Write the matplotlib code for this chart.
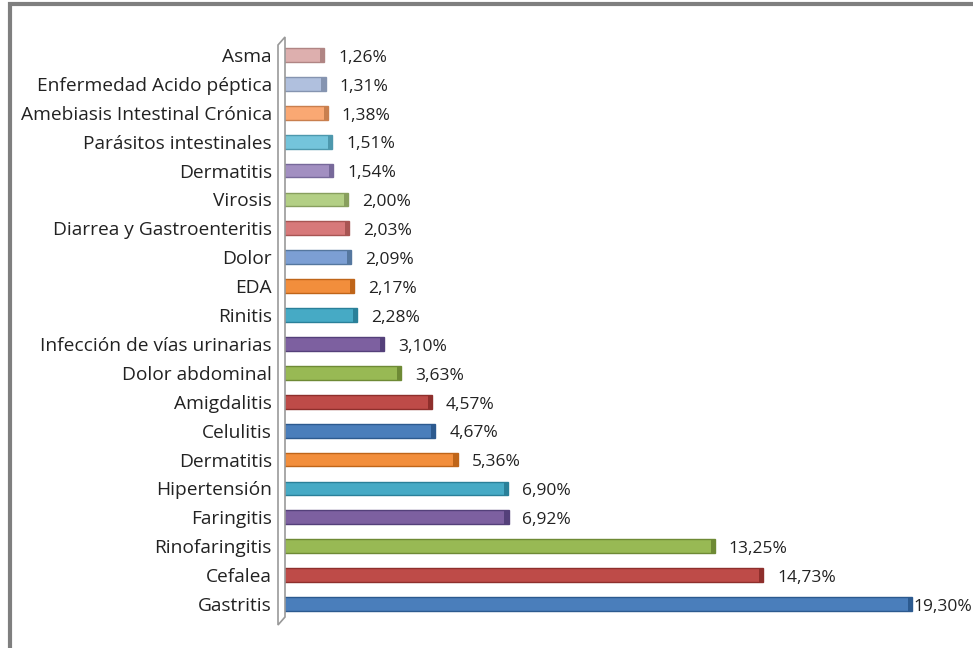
import matplotlib
matplotlib.use("Agg")
import matplotlib.pyplot as plt
from matplotlib.patches import Rectangle, Polygon

plt.rcParams['font.family'] = ['Open Sans', 'DejaVu Sans']

# datos (de abajo hacia arriba)
causas = ['Gastritis', 'Cefalea', 'Rinofaringitis', 'Faringitis', 'Hipertensión',
          'Dermatitis', 'Celulitis', 'Amigdalitis', 'Dolor abdominal',
          'Infección de vías urinarias', 'Rinitis', 'EDA', 'Dolor',
          'Diarrea y Gastroenteritis', 'Virosis', 'Dermatitis',
          'Parásitos intestinales', 'Amebiasis Intestinal Crónica',
          'Enfermedad Acido péptica', 'Asma']
porcentajes = [19.30, 14.73, 13.25, 6.92, 6.90, 5.36, 4.67, 4.57, 3.63, 3.10,
               2.28, 2.17, 2.09, 2.03, 2.00, 1.54, 1.51, 1.38, 1.31, 1.26]

# colores cara / extremo (estilo excel 3D)
caras = ['#4A7EBB', '#BE4B48', '#98B954', '#7D60A0', '#46AAC5', '#F28E3C',
         '#4A7EBB', '#BE4B48', '#98B954', '#7D60A0', '#46AAC5', '#F28E3C',
         '#7C9FD4', '#D7797A', '#B3CF85', '#A28FC1', '#74C4DB', '#FAA873',
         '#B0C0DE', '#DDAFAE']
extremos = ['#2C5A8F', '#8E2F2C', '#6E8A35', '#54407A', '#2A8099', '#BF6519',
            '#2C5A8F', '#8E2F2C', '#6E8A35', '#54407A', '#2A8099', '#BF6519',
            '#55779F', '#A85553', '#889F5E', '#77699A', '#4D98AD', '#C97F4E',
            '#8594B0', '#B08584']

W, H = 973, 648
fig = plt.figure(figsize=(W / 100, H / 100), dpi=100)

x0, y_top, y_bot = 283, 40.5, 618.5
px_por_pct = 32.6
ax = fig.add_axes([x0 / W, 1 - y_bot / H, 20 * px_por_pct / W, (y_bot - y_top) / H])
ax.set_xlim(0, 20)
ax.set_ylim(-0.5, len(causas) - 0.5)

pos = range(len(causas))
ax.barh(pos, porcentajes, height=0.48, color=caras, edgecolor=extremos, linewidth=1.0)
# extremo oscuro de cada barra
ax.barh(pos, [0.13] * len(causas), left=[p - 0.13 for p in porcentajes], height=0.48,
        color=extremos, linewidth=0)

for i, p in enumerate(porcentajes):
    off = 1 if p == max(porcentajes) else 10
    ax.annotate(f'{p:.2f}%'.replace('.', ','), (p, i), xytext=(off, -2),
                textcoords='offset points', va='center', ha='left', fontsize=12.5,
                color='#222222', annotation_clip=False)

ax.set_yticks(list(pos))
ax.set_yticklabels(causas, fontsize=13.8, color='#222222')
ax.tick_params(axis='y', length=0, pad=8)
ax.set_xticks([])
for s in ax.spines.values():
    s.set_visible(False)

# pared del eje (3D)
pared = [(278, 625), (278, 45), (285, 37), (285, 617)]
fig.patches.append(Polygon([(x / W, 1 - y / H) for x, y in pared], closed=True,
                           transform=fig.transFigure, facecolor='white',
                           edgecolor='#999999', linewidth=1.2, zorder=0))
# marco gris
fig.patches.append(Rectangle((9.5 / W, -0.1), 1.2, 1.1 - 4.5 / H, transform=fig.transFigure,
                             fill=False, edgecolor='#7f7f7f', linewidth=3))

fig.savefig('out.png', dpi=100)
